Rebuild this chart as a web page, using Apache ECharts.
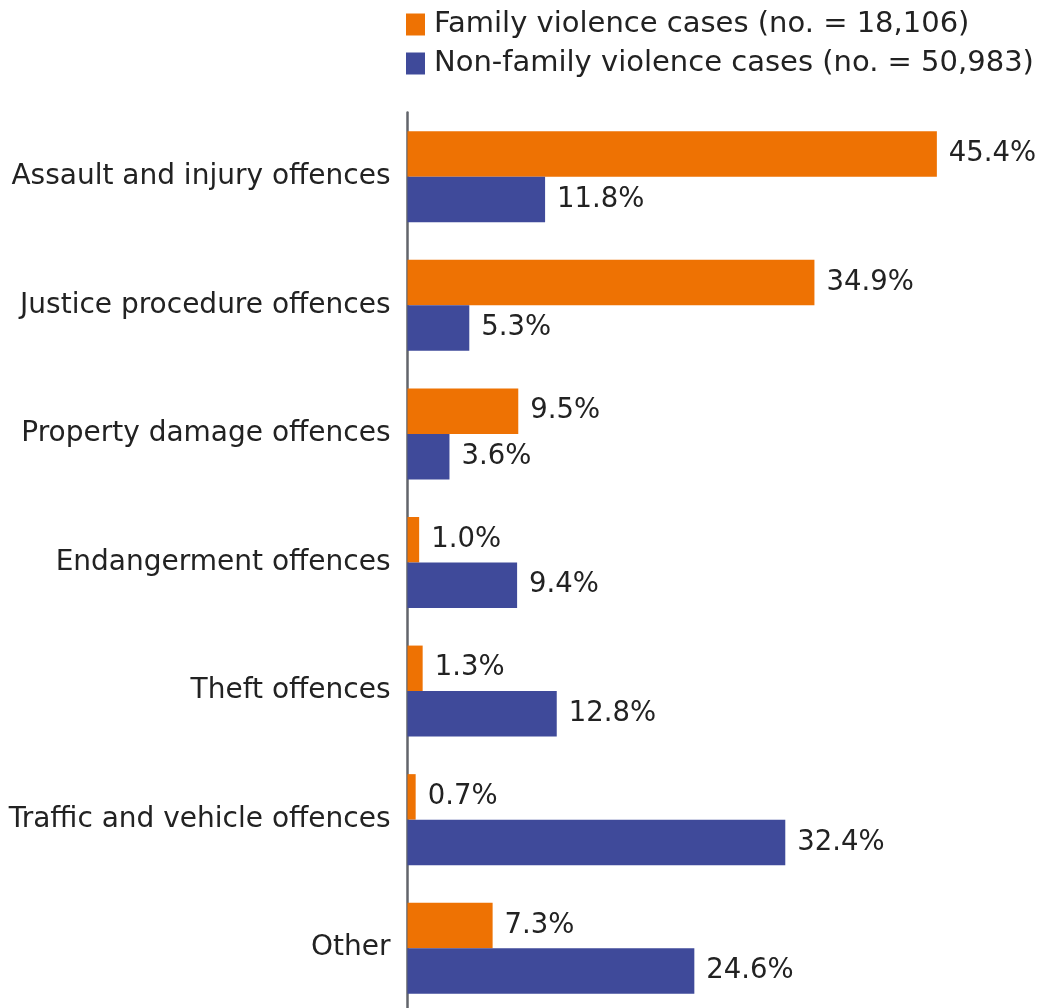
<!DOCTYPE html>
<html>
<head>
<meta charset="utf-8">
<script src="https://cdn.jsdelivr.net/npm/echarts@6/dist/echarts.min.js"></script>
<style>
  html, body { margin: 0; padding: 0; background: #fff; }
  #chart { width: 1042px; height: 1008px; }
</style>
</head>
<body>
<div id="chart"></div>
<script>
// Offence categories, top to bottom
const categories = [
  'Assault and injury offences',
  'Justice procedure offences',
  'Property damage offences',
  'Endangerment offences',
  'Theft offences',
  'Traffic and vehicle offences',
  'Other'
];
// Share of cases (%) in each category
const familyViolence = [45.4, 34.9, 9.5, 1.0, 1.3, 0.7, 7.3];
const nonFamilyViolence = [11.8, 5.3, 3.6, 9.4, 12.8, 32.4, 24.6];
const seriesNames = [
  'Family violence cases (no. = 18,106)',
  'Non-family violence cases (no. = 50,983)'
];

const FONT = '"DejaVu Sans", Verdana, sans-serif';
const TEXT = '#222222';

const chart = echarts.init(document.getElementById('chart'), null, { renderer: 'canvas' });

const labelCfg = {
  show: true,
  position: 'right',
  distance: 12,
  fontFamily: FONT,
  fontSize: 27.5,
  color: TEXT,
  formatter: p => p.value.toFixed(1) + '%'
};

chart.setOption({
  animation: false,
  legend: {
    orient: 'vertical',
    left: 401,
    top: 5,
    itemWidth: 19,
    itemHeight: 22,
    itemGap: 10,
    icon: 'rect',
    textStyle: { fontFamily: FONT, fontSize: 29, color: TEXT, padding: [0, 0, 0, 4] },
    data: seriesNames
  },
  // the plot runs slightly past the bottom edge of the canvas
  grid: {
    left: 407.5, top: 112.5, width: 583, height: 900,
    containLabel: false, outerBoundsMode: 'none'
  },
  xAxis: {
    type: 'value',
    min: 0,
    max: 50,
    show: false
  },
  yAxis: {
    type: 'category',
    inverse: true,
    data: categories,
    axisLine: { show: true, lineStyle: { color: '#62656b', width: 2.5 } },
    axisTick: { show: false },
    axisLabel: { fontFamily: FONT, fontSize: 28, color: TEXT, margin: 17 }
  },
  series: [
    {
      name: seriesNames[0],
      type: 'bar',
      data: familyViolence,
      barWidth: 45.5,
      barGap: '0%',
      itemStyle: { color: '#EE7203' },
      label: labelCfg
    },
    {
      name: seriesNames[1],
      type: 'bar',
      data: nonFamilyViolence,
      barWidth: 45.5,
      barGap: '0%',
      itemStyle: { color: '#3F4A9A' },
      label: labelCfg
    }
  ]
});
</script>
</body>
</html>
